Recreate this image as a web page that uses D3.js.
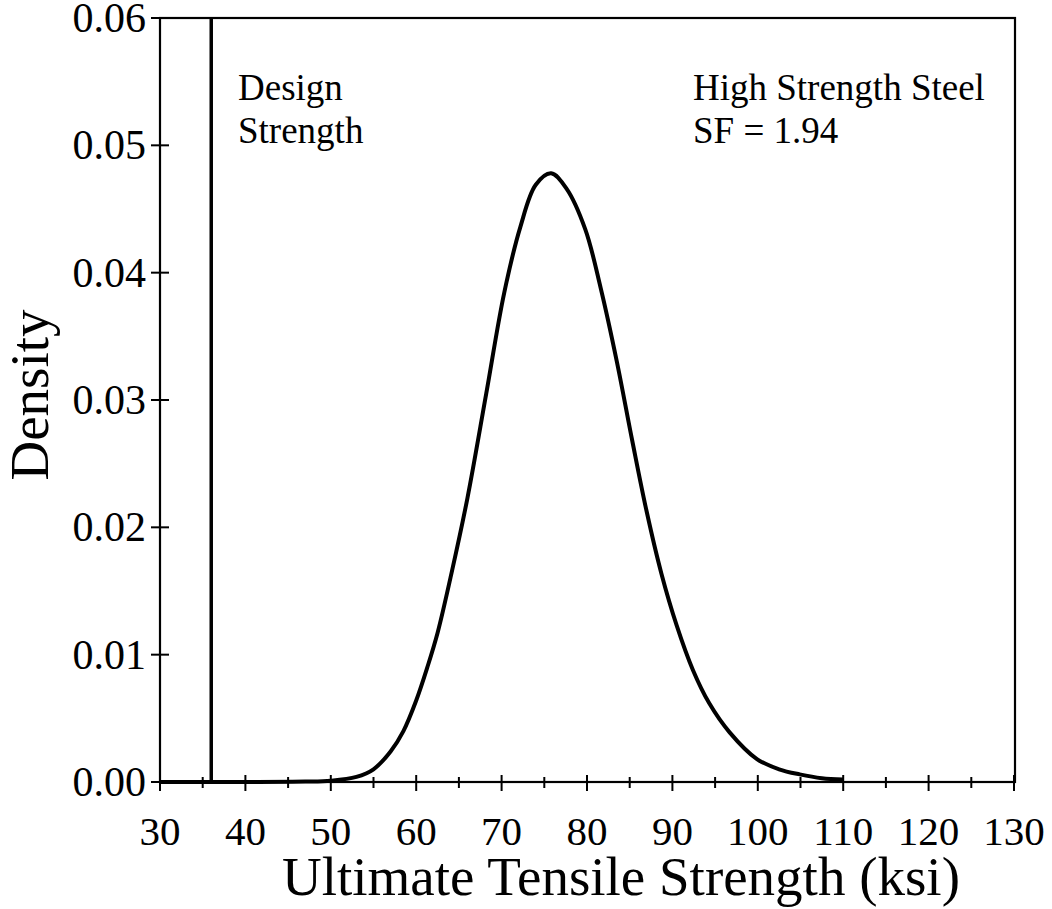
<!DOCTYPE html>
<html>
<head>
<meta charset="utf-8">
<script src="https://cdn.jsdelivr.net/npm/d3@7"></script>
<style>
  html, body { margin: 0; padding: 0; background: #fff; }
  svg { display: block; }
  text { font-family: "Liberation Serif", "Times New Roman", serif; fill: #000; }
</style>
</head>
<body>
<script>
// ---- data ----
const xTicks = [30, 40, 50, 60, 70, 80, 90, 100, 110, 120, 130];
const xMinorTicks = [35, 45, 55, 65, 75, 85, 95, 105, 115, 125];
const yTicks = [0, 0.01, 0.02, 0.03, 0.04, 0.05, 0.06];
const yTickLabels = ["0.00", "0.01", "0.02", "0.03", "0.04", "0.05", "0.06"];
const strength = [30, 40, 47, 50, 53, 55, 57, 58.5, 60, 61.3, 62.5, 64.2, 66, 68.2, 70.3, 72.2, 74, 75.8, 77.6, 79.8, 81.6, 83.5, 85.3, 87, 88.7, 90.5, 92.4, 94.3, 96.7, 99.9, 102.5, 104.9, 107.5, 110];
const density  = [0, 0, 0.00003, 0.0001, 0.0004, 0.0010, 0.0024, 0.0040, 0.0064, 0.0090, 0.0117, 0.0166, 0.0223, 0.0305, 0.0384, 0.0436, 0.0469, 0.0478, 0.0466, 0.0434, 0.0388, 0.0330, 0.0268, 0.0212, 0.0164, 0.0123, 0.0088, 0.0062, 0.0039, 0.0018, 0.0010, 0.0006, 0.0003, 0.0002];
const designStrength = [36];
const labels = {
  x: "Ultimate Tensile Strength (ksi)",
  y: "Density",
  design: ["Design", "Strength"],
  material: ["High Strength Steel", "SF = 1.94"]
};

// ---- layout ----
const W = 1052, H = 909;
const mLeft = 160, mRight = 1015, mTop = 18, mBottom = 782;

const svg = d3.select("body").append("svg").attr("width", W).attr("height", H);

const x = d3.scaleLinear().domain([30, 130]).range([mLeft, 1014]);
const y = d3.scaleLinear().domain([0, 0.06]).range([mBottom, mTop]);

// frame
svg.append("rect")
  .attr("x", mLeft).attr("y", mTop)
  .attr("width", mRight - mLeft).attr("height", mBottom - mTop)
  .attr("fill", "none").attr("stroke", "#000").attr("stroke-width", 2.2);

// x axis ticks
const gx = svg.append("g");
gx.selectAll("line.major").data(xTicks).join("line")
  .attr("class", "major")
  .attr("x1", d => x(d)).attr("x2", d => x(d))
  .attr("y1", mBottom - 7).attr("y2", mBottom + 9)
  .attr("stroke", "#000").attr("stroke-width", 2);
gx.selectAll("line.minor").data(xMinorTicks).join("line")
  .attr("class", "minor")
  .attr("x1", d => x(d)).attr("x2", d => x(d))
  .attr("y1", mBottom - 5).attr("y2", mBottom + 6)
  .attr("stroke", "#000").attr("stroke-width", 2);
gx.selectAll("text").data(xTicks).join("text")
  .attr("x", d => x(d)).attr("y", 845)
  .attr("text-anchor", "middle")
  .attr("font-size", 41)
  .text(d => d);

// y axis ticks
const gy = svg.append("g");
gy.selectAll("line").data(yTicks).join("line")
  .attr("x1", mLeft - 9).attr("x2", mLeft + 9)
  .attr("y1", d => y(d)).attr("y2", d => y(d))
  .attr("stroke", "#000").attr("stroke-width", 2);
gy.selectAll("text").data(yTicks).join("text")
  .attr("x", 146).attr("y", d => y(d) + 14)
  .attr("text-anchor", "end")
  .attr("font-size", 42)
  .text((d, i) => yTickLabels[i]);

// axis titles
svg.append("text")
  .attr("x", 621).attr("y", 895)
  .attr("text-anchor", "middle")
  .attr("font-size", 55)
  .text(labels.x);
svg.append("text")
  .attr("transform", "translate(48,395) rotate(-90)")
  .attr("text-anchor", "middle")
  .attr("font-size", 55)
  .text(labels.y);

// design strength line
svg.selectAll("line.design").data(designStrength).join("line")
  .attr("class", "design")
  .attr("x1", d => x(d)).attr("x2", d => x(d))
  .attr("y1", y(0.06)).attr("y2", y(0))
  .attr("stroke", "#000").attr("stroke-width", 3.5);

// density curve
const pts = strength.map((s, i) => [s, density[i]]);
const line = d3.line()
  .x(d => x(d[0])).y(d => y(d[1]))
  .curve(d3.curveCatmullRom.alpha(0.5));
svg.append("path")
  .attr("d", line(pts))
  .attr("fill", "none").attr("stroke", "#000")
  .attr("stroke-width", 4).attr("stroke-linejoin", "round");

// annotations
svg.selectAll("text.design").data(labels.design).join("text")
  .attr("class", "design")
  .attr("x", 238).attr("y", (d, i) => 100 + i * 43)
  .attr("font-size", 37)
  .text(d => d);
svg.selectAll("text.material").data(labels.material).join("text")
  .attr("class", "material")
  .attr("x", 693).attr("y", (d, i) => 100 + i * 43)
  .attr("font-size", 37)
  .text(d => d);
</script>
</body>
</html>
